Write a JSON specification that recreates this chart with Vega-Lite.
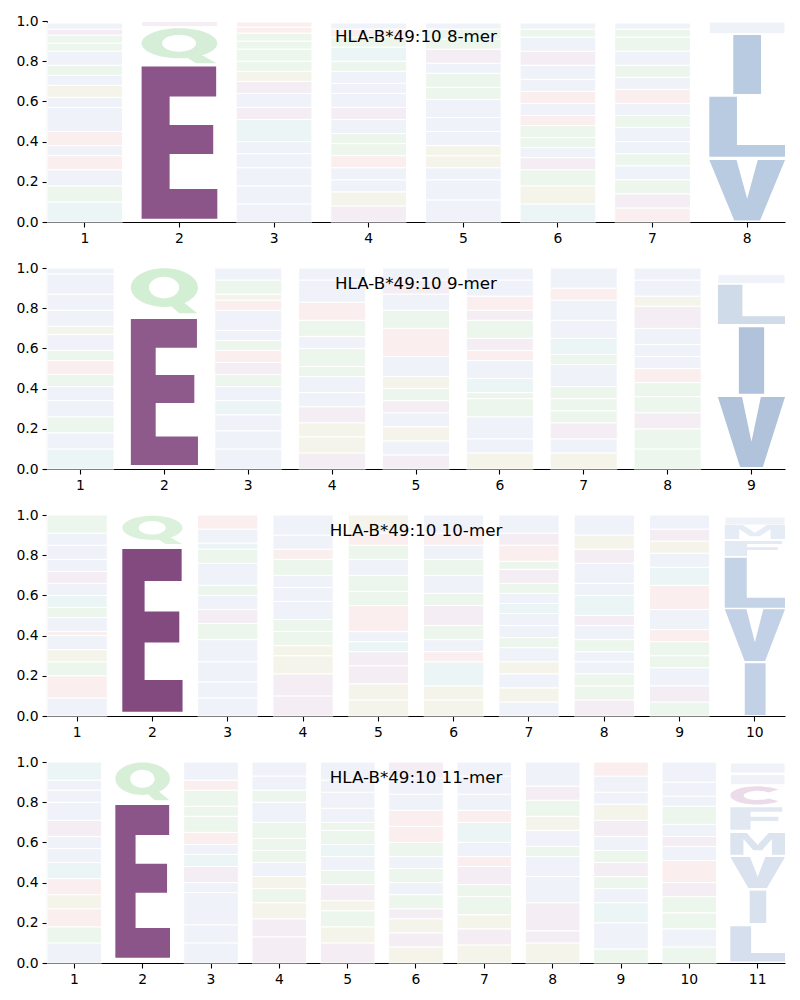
{
"$schema": "https://vega.github.io/schema/vega-lite/v6.json",
"background": "white",
"padding": {"left": 15, "top": 14, "right": 15, "bottom": 5},
"spacing": 16,
"config": {
  "view": {"stroke": null},
  "font": "DejaVu Sans",
  "axis": {"domainColor": "black", "domainWidth": 1.1, "tickColor": "black", "tickSize": 5, "tickWidth": 1.1, "labelFont": "DejaVu Sans", "labelFontSize": 13.9, "labelColor": "black", "labelPadding": 4, "grid": false, "title": null},
  "title": {"font": "DejaVu Sans", "fontSize": 16.7, "fontWeight": "normal", "color": "black", "anchor": "middle", "frame": "group", "offset": -32, "baseline": "alphabetic"}
},
"resolve": {"scale": {"x": "independent", "y": "independent", "fill": "independent", "shape": "independent"}},
"datasets": {
"faint": [
{"k":8,"x":1,"a":"H","y":0,"y2":0.10},{"k":8,"x":1,"a":"S","y":0.10,"y2":0.18},{"k":8,"x":1,"a":"A","y":0.18,"y2":0.26},{"k":8,"x":1,"a":"R","y":0.26,"y2":0.33},{"k":8,"x":1,"a":"F","y":0.33,"y2":0.38},{"k":8,"x":1,"a":"K","y":0.38,"y2":0.45},{"k":8,"x":1,"a":"Y","y":0.45,"y2":0.57},{"k":8,"x":1,"a":"M","y":0.57,"y2":0.62},{"k":8,"x":1,"a":"G","y":0.62,"y2":0.68},{"k":8,"x":1,"a":"V","y":0.68,"y2":0.73},{"k":8,"x":1,"a":"N","y":0.73,"y2":0.78},{"k":8,"x":1,"a":"M","y":0.78,"y2":0.85},{"k":8,"x":1,"a":"Q","y":0.85,"y2":0.89},{"k":8,"x":1,"a":"T","y":0.89,"y2":0.93},{"k":8,"x":1,"a":"E","y":0.93,"y2":0.96},{"k":8,"x":1,"a":"F","y":0.96,"y2":0.99},
{"k":8,"x":2,"a":"D","y":0.972,"y2":0.998},
{"k":8,"x":3,"a":"Y","y":0,"y2":0.09},{"k":8,"x":3,"a":"F","y":0.09,"y2":0.18},{"k":8,"x":3,"a":"W","y":0.18,"y2":0.27},{"k":8,"x":3,"a":"M","y":0.27,"y2":0.34},{"k":8,"x":3,"a":"I","y":0.34,"y2":0.40},{"k":8,"x":3,"a":"H","y":0.40,"y2":0.51},{"k":8,"x":3,"a":"C","y":0.51,"y2":0.57},{"k":8,"x":3,"a":"A","y":0.57,"y2":0.64},{"k":8,"x":3,"a":"D","y":0.64,"y2":0.70},{"k":8,"x":3,"a":"G","y":0.70,"y2":0.75},{"k":8,"x":3,"a":"S","y":0.75,"y2":0.80},{"k":8,"x":3,"a":"Q","y":0.80,"y2":0.86},{"k":8,"x":3,"a":"T","y":0.86,"y2":0.90},{"k":8,"x":3,"a":"N","y":0.90,"y2":0.94},{"k":8,"x":3,"a":"R","y":0.94,"y2":0.97},{"k":8,"x":3,"a":"K","y":0.97,"y2":0.995},
{"k":8,"x":4,"a":"E","y":0,"y2":0.08},{"k":8,"x":4,"a":"P","y":0.08,"y2":0.15},{"k":8,"x":4,"a":"M","y":0.15,"y2":0.21},{"k":8,"x":4,"a":"L","y":0.21,"y2":0.27},{"k":8,"x":4,"a":"R","y":0.27,"y2":0.33},{"k":8,"x":4,"a":"Q","y":0.33,"y2":0.39},{"k":8,"x":4,"a":"T","y":0.39,"y2":0.44},{"k":8,"x":4,"a":"V","y":0.44,"y2":0.51},{"k":8,"x":4,"a":"D","y":0.51,"y2":0.57},{"k":8,"x":4,"a":"M","y":0.57,"y2":0.64},{"k":8,"x":4,"a":"A","y":0.64,"y2":0.69},{"k":8,"x":4,"a":"F","y":0.69,"y2":0.75},{"k":8,"x":4,"a":"N","y":0.75,"y2":0.80},{"k":8,"x":4,"a":"H","y":0.80,"y2":0.87},{"k":8,"x":4,"a":"S","y":0.87,"y2":0.92},{"k":8,"x":4,"a":"K","y":0.92,"y2":0.96},{"k":8,"x":4,"a":"W","y":0.96,"y2":0.99},
{"k":8,"x":5,"a":"Y","y":0,"y2":0.11},{"k":8,"x":5,"a":"V","y":0.11,"y2":0.21},{"k":8,"x":5,"a":"L","y":0.21,"y2":0.27},{"k":8,"x":5,"a":"G","y":0.27,"y2":0.33},{"k":8,"x":5,"a":"P","y":0.33,"y2":0.38},{"k":8,"x":5,"a":"F","y":0.38,"y2":0.45},{"k":8,"x":5,"a":"A","y":0.45,"y2":0.52},{"k":8,"x":5,"a":"M","y":0.52,"y2":0.61},{"k":8,"x":5,"a":"S","y":0.61,"y2":0.67},{"k":8,"x":5,"a":"T","y":0.67,"y2":0.74},{"k":8,"x":5,"a":"Y","y":0.74,"y2":0.79},{"k":8,"x":5,"a":"C","y":0.79,"y2":0.86},{"k":8,"x":5,"a":"Q","y":0.86,"y2":0.91},{"k":8,"x":5,"a":"N","y":0.91,"y2":0.96},{"k":8,"x":5,"a":"W","y":0.96,"y2":0.99},
{"k":8,"x":6,"a":"H","y":0,"y2":0.09},{"k":8,"x":6,"a":"P","y":0.09,"y2":0.18},{"k":8,"x":6,"a":"N","y":0.18,"y2":0.26},{"k":8,"x":6,"a":"E","y":0.26,"y2":0.32},{"k":8,"x":6,"a":"L","y":0.32,"y2":0.37},{"k":8,"x":6,"a":"T","y":0.37,"y2":0.42},{"k":8,"x":6,"a":"Q","y":0.42,"y2":0.48},{"k":8,"x":6,"a":"R","y":0.48,"y2":0.53},{"k":8,"x":6,"a":"Y","y":0.53,"y2":0.59},{"k":8,"x":6,"a":"K","y":0.59,"y2":0.65},{"k":8,"x":6,"a":"F","y":0.65,"y2":0.71},{"k":8,"x":6,"a":"Y","y":0.71,"y2":0.78},{"k":8,"x":6,"a":"C","y":0.78,"y2":0.85},{"k":8,"x":6,"a":"A","y":0.85,"y2":0.92},{"k":8,"x":6,"a":"T","y":0.92,"y2":0.96},{"k":8,"x":6,"a":"M","y":0.96,"y2":0.99},
{"k":8,"x":7,"a":"K","y":0,"y2":0.07},{"k":8,"x":7,"a":"E","y":0.07,"y2":0.14},{"k":8,"x":7,"a":"Q","y":0.14,"y2":0.21},{"k":8,"x":7,"a":"A","y":0.21,"y2":0.28},{"k":8,"x":7,"a":"T","y":0.28,"y2":0.34},{"k":8,"x":7,"a":"L","y":0.34,"y2":0.40},{"k":8,"x":7,"a":"V","y":0.40,"y2":0.47},{"k":8,"x":7,"a":"S","y":0.47,"y2":0.53},{"k":8,"x":7,"a":"M","y":0.53,"y2":0.59},{"k":8,"x":7,"a":"R","y":0.59,"y2":0.66},{"k":8,"x":7,"a":"F","y":0.66,"y2":0.72},{"k":8,"x":7,"a":"N","y":0.72,"y2":0.78},{"k":8,"x":7,"a":"Y","y":0.78,"y2":0.85},{"k":8,"x":7,"a":"Q","y":0.85,"y2":0.92},{"k":8,"x":7,"a":"T","y":0.92,"y2":0.96},{"k":8,"x":7,"a":"W","y":0.96,"y2":0.99},
{"k":8,"x":8,"a":"M","y":0.937,"y2":0.995},
{"k":9,"x":1,"a":"H","y":0,"y2":0.10},{"k":9,"x":1,"a":"A","y":0.10,"y2":0.18},{"k":9,"x":1,"a":"S","y":0.18,"y2":0.26},{"k":9,"x":1,"a":"M","y":0.26,"y2":0.34},{"k":9,"x":1,"a":"Y","y":0.34,"y2":0.41},{"k":9,"x":1,"a":"Q","y":0.41,"y2":0.47},{"k":9,"x":1,"a":"R","y":0.47,"y2":0.54},{"k":9,"x":1,"a":"T","y":0.54,"y2":0.59},{"k":9,"x":1,"a":"M","y":0.59,"y2":0.67},{"k":9,"x":1,"a":"G","y":0.67,"y2":0.71},{"k":9,"x":1,"a":"F","y":0.71,"y2":0.79},{"k":9,"x":1,"a":"I","y":0.79,"y2":0.87},{"k":9,"x":1,"a":"Y","y":0.87,"y2":0.97},{"k":9,"x":1,"a":"W","y":0.97,"y2":1.0},
{"k":9,"x":3,"a":"F","y":0,"y2":0.10},{"k":9,"x":3,"a":"Y","y":0.10,"y2":0.19},{"k":9,"x":3,"a":"M","y":0.19,"y2":0.27},{"k":9,"x":3,"a":"H","y":0.27,"y2":0.34},{"k":9,"x":3,"a":"I","y":0.34,"y2":0.41},{"k":9,"x":3,"a":"N","y":0.41,"y2":0.47},{"k":9,"x":3,"a":"C","y":0.47,"y2":0.53},{"k":9,"x":3,"a":"K","y":0.53,"y2":0.59},{"k":9,"x":3,"a":"S","y":0.59,"y2":0.64},{"k":9,"x":3,"a":"Y","y":0.64,"y2":0.69},{"k":9,"x":3,"a":"W","y":0.69,"y2":0.79},{"k":9,"x":3,"a":"R","y":0.79,"y2":0.84},{"k":9,"x":3,"a":"G","y":0.84,"y2":0.87},{"k":9,"x":3,"a":"T","y":0.87,"y2":0.94},{"k":9,"x":3,"a":"F","y":0.94,"y2":1.0},
{"k":9,"x":4,"a":"E","y":0,"y2":0.08},{"k":9,"x":4,"a":"P","y":0.08,"y2":0.16},{"k":9,"x":4,"a":"G","y":0.16,"y2":0.23},{"k":9,"x":4,"a":"D","y":0.23,"y2":0.31},{"k":9,"x":4,"a":"V","y":0.31,"y2":0.38},{"k":9,"x":4,"a":"A","y":0.38,"y2":0.46},{"k":9,"x":4,"a":"Q","y":0.46,"y2":0.51},{"k":9,"x":4,"a":"N","y":0.51,"y2":0.60},{"k":9,"x":4,"a":"M","y":0.60,"y2":0.66},{"k":9,"x":4,"a":"T","y":0.66,"y2":0.74},{"k":9,"x":4,"a":"K","y":0.74,"y2":0.83},{"k":9,"x":4,"a":"Y","y":0.83,"y2":0.94},{"k":9,"x":4,"a":"W","y":0.94,"y2":1.0},
{"k":9,"x":5,"a":"C","y":0,"y2":0.07},{"k":9,"x":5,"a":"Y","y":0.07,"y2":0.14},{"k":9,"x":5,"a":"P","y":0.14,"y2":0.21},{"k":9,"x":5,"a":"F","y":0.21,"y2":0.28},{"k":9,"x":5,"a":"E","y":0.28,"y2":0.34},{"k":9,"x":5,"a":"S","y":0.34,"y2":0.40},{"k":9,"x":5,"a":"G","y":0.40,"y2":0.46},{"k":9,"x":5,"a":"L","y":0.46,"y2":0.56},{"k":9,"x":5,"a":"K","y":0.56,"y2":0.70},{"k":9,"x":5,"a":"N","y":0.70,"y2":0.79},{"k":9,"x":5,"a":"V","y":0.79,"y2":0.87},{"k":9,"x":5,"a":"C","y":0.87,"y2":0.94},{"k":9,"x":5,"a":"A","y":0.94,"y2":1.0},
{"k":9,"x":6,"a":"P","y":0,"y2":0.08},{"k":9,"x":6,"a":"Y","y":0.08,"y2":0.15},{"k":9,"x":6,"a":"F","y":0.15,"y2":0.26},{"k":9,"x":6,"a":"Q","y":0.26,"y2":0.35},{"k":9,"x":6,"a":"S","y":0.35,"y2":0.38},{"k":9,"x":6,"a":"H","y":0.38,"y2":0.45},{"k":9,"x":6,"a":"A","y":0.45,"y2":0.54},{"k":9,"x":6,"a":"K","y":0.54,"y2":0.59},{"k":9,"x":6,"a":"E","y":0.59,"y2":0.65},{"k":9,"x":6,"a":"N","y":0.65,"y2":0.74},{"k":9,"x":6,"a":"C","y":0.74,"y2":0.79},{"k":9,"x":6,"a":"R","y":0.79,"y2":0.86},{"k":9,"x":6,"a":"Y","y":0.86,"y2":0.94},{"k":9,"x":6,"a":"M","y":0.94,"y2":1.0},
{"k":9,"x":7,"a":"P","y":0,"y2":0.08},{"k":9,"x":7,"a":"M","y":0.08,"y2":0.15},{"k":9,"x":7,"a":"E","y":0.15,"y2":0.23},{"k":9,"x":7,"a":"Q","y":0.23,"y2":0.29},{"k":9,"x":7,"a":"T","y":0.29,"y2":0.35},{"k":9,"x":7,"a":"N","y":0.35,"y2":0.41},{"k":9,"x":7,"a":"Y","y":0.41,"y2":0.52},{"k":9,"x":7,"a":"S","y":0.52,"y2":0.57},{"k":9,"x":7,"a":"H","y":0.57,"y2":0.65},{"k":9,"x":7,"a":"A","y":0.65,"y2":0.74},{"k":9,"x":7,"a":"M","y":0.74,"y2":0.84},{"k":9,"x":7,"a":"R","y":0.84,"y2":0.90},{"k":9,"x":7,"a":"Y","y":0.90,"y2":1.0},
{"k":9,"x":8,"a":"T","y":0,"y2":0.10},{"k":9,"x":8,"a":"Q","y":0.10,"y2":0.20},{"k":9,"x":8,"a":"E","y":0.20,"y2":0.28},{"k":9,"x":8,"a":"S","y":0.28,"y2":0.36},{"k":9,"x":8,"a":"N","y":0.36,"y2":0.43},{"k":9,"x":8,"a":"K","y":0.43,"y2":0.50},{"k":9,"x":8,"a":"A","y":0.50,"y2":0.56},{"k":9,"x":8,"a":"Y","y":0.56,"y2":0.62},{"k":9,"x":8,"a":"L","y":0.62,"y2":0.70},{"k":9,"x":8,"a":"C","y":0.70,"y2":0.81},{"k":9,"x":8,"a":"G","y":0.81,"y2":0.86},{"k":9,"x":8,"a":"Y","y":0.86,"y2":0.94},{"k":9,"x":8,"a":"M","y":0.94,"y2":1.0},
{"k":9,"x":9,"a":"M","y":0.922,"y2":0.967},
{"k":10,"x":1,"a":"A","y":0,"y2":0.09},{"k":10,"x":1,"a":"R","y":0.09,"y2":0.20},{"k":10,"x":1,"a":"S","y":0.20,"y2":0.27},{"k":10,"x":1,"a":"G","y":0.27,"y2":0.33},{"k":10,"x":1,"a":"V","y":0.33,"y2":0.40},{"k":10,"x":1,"a":"K","y":0.40,"y2":0.42},{"k":10,"x":1,"a":"Y","y":0.42,"y2":0.49},{"k":10,"x":1,"a":"Q","y":0.49,"y2":0.54},{"k":10,"x":1,"a":"H","y":0.54,"y2":0.60},{"k":10,"x":1,"a":"M","y":0.60,"y2":0.66},{"k":10,"x":1,"a":"C","y":0.66,"y2":0.72},{"k":10,"x":1,"a":"F","y":0.72,"y2":0.78},{"k":10,"x":1,"a":"W","y":0.78,"y2":0.85},{"k":10,"x":1,"a":"I","y":0.85,"y2":0.91},{"k":10,"x":1,"a":"T","y":0.91,"y2":1.0},
{"k":10,"x":3,"a":"F","y":0,"y2":0.09},{"k":10,"x":3,"a":"Y","y":0.09,"y2":0.17},{"k":10,"x":3,"a":"I","y":0.17,"y2":0.27},{"k":10,"x":3,"a":"M","y":0.27,"y2":0.38},{"k":10,"x":3,"a":"Q","y":0.38,"y2":0.46},{"k":10,"x":3,"a":"D","y":0.46,"y2":0.53},{"k":10,"x":3,"a":"A","y":0.53,"y2":0.60},{"k":10,"x":3,"a":"S","y":0.60,"y2":0.65},{"k":10,"x":3,"a":"W","y":0.65,"y2":0.76},{"k":10,"x":3,"a":"N","y":0.76,"y2":0.83},{"k":10,"x":3,"a":"H","y":0.83,"y2":0.86},{"k":10,"x":3,"a":"M","y":0.86,"y2":0.93},{"k":10,"x":3,"a":"R","y":0.93,"y2":1.0},
{"k":10,"x":4,"a":"D","y":0,"y2":0.10},{"k":10,"x":4,"a":"E","y":0.10,"y2":0.21},{"k":10,"x":4,"a":"P","y":0.21,"y2":0.30},{"k":10,"x":4,"a":"G","y":0.30,"y2":0.35},{"k":10,"x":4,"a":"S","y":0.35,"y2":0.42},{"k":10,"x":4,"a":"Q","y":0.42,"y2":0.48},{"k":10,"x":4,"a":"A","y":0.48,"y2":0.57},{"k":10,"x":4,"a":"V","y":0.57,"y2":0.64},{"k":10,"x":4,"a":"W","y":0.64,"y2":0.70},{"k":10,"x":4,"a":"N","y":0.70,"y2":0.78},{"k":10,"x":4,"a":"R","y":0.78,"y2":0.83},{"k":10,"x":4,"a":"M","y":0.83,"y2":0.90},{"k":10,"x":4,"a":"Y","y":0.90,"y2":1.0},
{"k":10,"x":5,"a":"P","y":0,"y2":0.08},{"k":10,"x":5,"a":"G","y":0.08,"y2":0.16},{"k":10,"x":5,"a":"D","y":0.16,"y2":0.25},{"k":10,"x":5,"a":"E","y":0.25,"y2":0.32},{"k":10,"x":5,"a":"H","y":0.32,"y2":0.37},{"k":10,"x":5,"a":"Y","y":0.37,"y2":0.42},{"k":10,"x":5,"a":"K","y":0.42,"y2":0.55},{"k":10,"x":5,"a":"N","y":0.55,"y2":0.62},{"k":10,"x":5,"a":"S","y":0.62,"y2":0.70},{"k":10,"x":5,"a":"W","y":0.70,"y2":0.78},{"k":10,"x":5,"a":"T","y":0.78,"y2":0.85},{"k":10,"x":5,"a":"R","y":0.85,"y2":0.91},{"k":10,"x":5,"a":"G","y":0.91,"y2":1.0},
{"k":10,"x":6,"a":"P","y":0,"y2":0.08},{"k":10,"x":6,"a":"G","y":0.08,"y2":0.15},{"k":10,"x":6,"a":"H","y":0.15,"y2":0.27},{"k":10,"x":6,"a":"K","y":0.27,"y2":0.32},{"k":10,"x":6,"a":"V","y":0.32,"y2":0.38},{"k":10,"x":6,"a":"N","y":0.38,"y2":0.45},{"k":10,"x":6,"a":"D","y":0.45,"y2":0.55},{"k":10,"x":6,"a":"S","y":0.55,"y2":0.61},{"k":10,"x":6,"a":"L","y":0.61,"y2":0.70},{"k":10,"x":6,"a":"T","y":0.70,"y2":0.78},{"k":10,"x":6,"a":"M","y":0.78,"y2":0.85},{"k":10,"x":6,"a":"R","y":0.85,"y2":0.91},{"k":10,"x":6,"a":"A","y":0.91,"y2":1.0},
{"k":10,"x":7,"a":"I","y":0,"y2":0.07},{"k":10,"x":7,"a":"G","y":0.07,"y2":0.14},{"k":10,"x":7,"a":"M","y":0.14,"y2":0.21},{"k":10,"x":7,"a":"P","y":0.21,"y2":0.27},{"k":10,"x":7,"a":"A","y":0.27,"y2":0.34},{"k":10,"x":7,"a":"S","y":0.34,"y2":0.39},{"k":10,"x":7,"a":"L","y":0.39,"y2":0.45},{"k":10,"x":7,"a":"V","y":0.45,"y2":0.51},{"k":10,"x":7,"a":"H","y":0.51,"y2":0.56},{"k":10,"x":7,"a":"F","y":0.56,"y2":0.61},{"k":10,"x":7,"a":"Q","y":0.61,"y2":0.66},{"k":10,"x":7,"a":"D","y":0.66,"y2":0.73},{"k":10,"x":7,"a":"N","y":0.73,"y2":0.77},{"k":10,"x":7,"a":"R","y":0.77,"y2":0.85},{"k":10,"x":7,"a":"E","y":0.85,"y2":0.91},{"k":10,"x":7,"a":"W","y":0.91,"y2":1.0},
{"k":10,"x":8,"a":"E","y":0,"y2":0.08},{"k":10,"x":8,"a":"Q","y":0.08,"y2":0.15},{"k":10,"x":8,"a":"T","y":0.15,"y2":0.21},{"k":10,"x":8,"a":"M","y":0.21,"y2":0.27},{"k":10,"x":8,"a":"I","y":0.27,"y2":0.32},{"k":10,"x":8,"a":"S","y":0.32,"y2":0.38},{"k":10,"x":8,"a":"A","y":0.38,"y2":0.45},{"k":10,"x":8,"a":"C","y":0.45,"y2":0.50},{"k":10,"x":8,"a":"H","y":0.50,"y2":0.60},{"k":10,"x":8,"a":"V","y":0.60,"y2":0.66},{"k":10,"x":8,"a":"M","y":0.66,"y2":0.76},{"k":10,"x":8,"a":"D","y":0.76,"y2":0.83},{"k":10,"x":8,"a":"P","y":0.83,"y2":0.90},{"k":10,"x":8,"a":"Y","y":0.90,"y2":1.0},
{"k":10,"x":9,"a":"T","y":0,"y2":0.07},{"k":10,"x":9,"a":"E","y":0.07,"y2":0.15},{"k":10,"x":9,"a":"A","y":0.15,"y2":0.24},{"k":10,"x":9,"a":"Q","y":0.24,"y2":0.30},{"k":10,"x":9,"a":"S","y":0.30,"y2":0.37},{"k":10,"x":9,"a":"K","y":0.37,"y2":0.43},{"k":10,"x":9,"a":"V","y":0.43,"y2":0.53},{"k":10,"x":9,"a":"R","y":0.53,"y2":0.65},{"k":10,"x":9,"a":"H","y":0.65,"y2":0.74},{"k":10,"x":9,"a":"Y","y":0.74,"y2":0.81},{"k":10,"x":9,"a":"G","y":0.81,"y2":0.87},{"k":10,"x":9,"a":"E","y":0.87,"y2":0.93},{"k":10,"x":9,"a":"F","y":0.93,"y2":1.0},
{"k":10,"x":10,"a":"W","y":0.95,"y2":0.99},
{"k":11,"x":1,"a":"A","y":0,"y2":0.10},{"k":11,"x":1,"a":"S","y":0.10,"y2":0.18},{"k":11,"x":1,"a":"R","y":0.18,"y2":0.27},{"k":11,"x":1,"a":"G","y":0.27,"y2":0.34},{"k":11,"x":1,"a":"K","y":0.34,"y2":0.42},{"k":11,"x":1,"a":"H","y":0.42,"y2":0.50},{"k":11,"x":1,"a":"M","y":0.50,"y2":0.57},{"k":11,"x":1,"a":"Y","y":0.57,"y2":0.63},{"k":11,"x":1,"a":"C","y":0.63,"y2":0.71},{"k":11,"x":1,"a":"Y","y":0.71,"y2":0.80},{"k":11,"x":1,"a":"V","y":0.80,"y2":0.86},{"k":11,"x":1,"a":"F","y":0.86,"y2":0.91},{"k":11,"x":1,"a":"H","y":0.91,"y2":1.0},
{"k":11,"x":3,"a":"F","y":0,"y2":0.10},{"k":11,"x":3,"a":"Y","y":0.10,"y2":0.19},{"k":11,"x":3,"a":"W","y":0.19,"y2":0.35},{"k":11,"x":3,"a":"M","y":0.35,"y2":0.40},{"k":11,"x":3,"a":"D","y":0.40,"y2":0.48},{"k":11,"x":3,"a":"H","y":0.48,"y2":0.54},{"k":11,"x":3,"a":"A","y":0.54,"y2":0.59},{"k":11,"x":3,"a":"K","y":0.59,"y2":0.65},{"k":11,"x":3,"a":"Q","y":0.65,"y2":0.73},{"k":11,"x":3,"a":"S","y":0.73,"y2":0.78},{"k":11,"x":3,"a":"N","y":0.78,"y2":0.86},{"k":11,"x":3,"a":"R","y":0.86,"y2":0.91},{"k":11,"x":3,"a":"M","y":0.91,"y2":1.0},
{"k":11,"x":4,"a":"D","y":0,"y2":0.13},{"k":11,"x":4,"a":"E","y":0.13,"y2":0.22},{"k":11,"x":4,"a":"P","y":0.22,"y2":0.30},{"k":11,"x":4,"a":"S","y":0.30,"y2":0.37},{"k":11,"x":4,"a":"G","y":0.37,"y2":0.43},{"k":11,"x":4,"a":"A","y":0.43,"y2":0.50},{"k":11,"x":4,"a":"Q","y":0.50,"y2":0.56},{"k":11,"x":4,"a":"N","y":0.56,"y2":0.62},{"k":11,"x":4,"a":"T","y":0.62,"y2":0.70},{"k":11,"x":4,"a":"Y","y":0.70,"y2":0.80},{"k":11,"x":4,"a":"N","y":0.80,"y2":0.86},{"k":11,"x":4,"a":"W","y":0.86,"y2":0.93},{"k":11,"x":4,"a":"Y","y":0.93,"y2":1.0},
{"k":11,"x":5,"a":"D","y":0,"y2":0.10},{"k":11,"x":5,"a":"P","y":0.10,"y2":0.18},{"k":11,"x":5,"a":"N","y":0.18,"y2":0.26},{"k":11,"x":5,"a":"G","y":0.26,"y2":0.31},{"k":11,"x":5,"a":"E","y":0.31,"y2":0.39},{"k":11,"x":5,"a":"S","y":0.39,"y2":0.46},{"k":11,"x":5,"a":"A","y":0.46,"y2":0.53},{"k":11,"x":5,"a":"H","y":0.53,"y2":0.59},{"k":11,"x":5,"a":"T","y":0.59,"y2":0.66},{"k":11,"x":5,"a":"Q","y":0.66,"y2":0.70},{"k":11,"x":5,"a":"M","y":0.70,"y2":0.77},{"k":11,"x":5,"a":"F","y":0.77,"y2":0.85},{"k":11,"x":5,"a":"Y","y":0.85,"y2":0.91},{"k":11,"x":5,"a":"W","y":0.91,"y2":1.0},
{"k":11,"x":6,"a":"G","y":0,"y2":0.08},{"k":11,"x":6,"a":"D","y":0.08,"y2":0.15},{"k":11,"x":6,"a":"P","y":0.15,"y2":0.22},{"k":11,"x":6,"a":"E","y":0.22,"y2":0.27},{"k":11,"x":6,"a":"N","y":0.27,"y2":0.34},{"k":11,"x":6,"a":"L","y":0.34,"y2":0.40},{"k":11,"x":6,"a":"S","y":0.40,"y2":0.47},{"k":11,"x":6,"a":"A","y":0.47,"y2":0.53},{"k":11,"x":6,"a":"Q","y":0.53,"y2":0.60},{"k":11,"x":6,"a":"K","y":0.60,"y2":0.68},{"k":11,"x":6,"a":"R","y":0.68,"y2":0.76},{"k":11,"x":6,"a":"V","y":0.76,"y2":0.84},{"k":11,"x":6,"a":"W","y":0.84,"y2":0.92},{"k":11,"x":6,"a":"E","y":0.92,"y2":1.0},
{"k":11,"x":7,"a":"G","y":0,"y2":0.09},{"k":11,"x":7,"a":"D","y":0.09,"y2":0.17},{"k":11,"x":7,"a":"P","y":0.17,"y2":0.24},{"k":11,"x":7,"a":"N","y":0.24,"y2":0.33},{"k":11,"x":7,"a":"S","y":0.33,"y2":0.39},{"k":11,"x":7,"a":"E","y":0.39,"y2":0.48},{"k":11,"x":7,"a":"K","y":0.48,"y2":0.53},{"k":11,"x":7,"a":"A","y":0.53,"y2":0.60},{"k":11,"x":7,"a":"H","y":0.60,"y2":0.70},{"k":11,"x":7,"a":"R","y":0.70,"y2":0.76},{"k":11,"x":7,"a":"V","y":0.76,"y2":0.84},{"k":11,"x":7,"a":"Y","y":0.84,"y2":0.93},{"k":11,"x":7,"a":"W","y":0.93,"y2":1.0},
{"k":11,"x":8,"a":"G","y":0,"y2":0.10},{"k":11,"x":8,"a":"C","y":0.10,"y2":0.16},{"k":11,"x":8,"a":"D","y":0.16,"y2":0.30},{"k":11,"x":8,"a":"Y","y":0.30,"y2":0.43},{"k":11,"x":8,"a":"A","y":0.43,"y2":0.53},{"k":11,"x":8,"a":"T","y":0.53,"y2":0.58},{"k":11,"x":8,"a":"L","y":0.58,"y2":0.66},{"k":11,"x":8,"a":"P","y":0.66,"y2":0.73},{"k":11,"x":8,"a":"N","y":0.73,"y2":0.81},{"k":11,"x":8,"a":"E","y":0.81,"y2":0.88},{"k":11,"x":8,"a":"M","y":0.88,"y2":1.0},
{"k":11,"x":9,"a":"N","y":0,"y2":0.07},{"k":11,"x":9,"a":"M","y":0.07,"y2":0.20},{"k":11,"x":9,"a":"H","y":0.20,"y2":0.30},{"k":11,"x":9,"a":"Y","y":0.30,"y2":0.37},{"k":11,"x":9,"a":"T","y":0.37,"y2":0.43},{"k":11,"x":9,"a":"E","y":0.43,"y2":0.50},{"k":11,"x":9,"a":"Q","y":0.50,"y2":0.56},{"k":11,"x":9,"a":"L","y":0.56,"y2":0.63},{"k":11,"x":9,"a":"C","y":0.63,"y2":0.71},{"k":11,"x":9,"a":"G","y":0.71,"y2":0.79},{"k":11,"x":9,"a":"W","y":0.79,"y2":0.85},{"k":11,"x":9,"a":"M","y":0.85,"y2":0.93},{"k":11,"x":9,"a":"R","y":0.93,"y2":1.0},
{"k":11,"x":10,"a":"T","y":0,"y2":0.08},{"k":11,"x":10,"a":"A","y":0.08,"y2":0.17},{"k":11,"x":10,"a":"S","y":0.17,"y2":0.25},{"k":11,"x":10,"a":"Q","y":0.25,"y2":0.33},{"k":11,"x":10,"a":"E","y":0.33,"y2":0.40},{"k":11,"x":10,"a":"R","y":0.40,"y2":0.51},{"k":11,"x":10,"a":"V","y":0.51,"y2":0.58},{"k":11,"x":10,"a":"C","y":0.58,"y2":0.63},{"k":11,"x":10,"a":"I","y":0.63,"y2":0.69},{"k":11,"x":10,"a":"N","y":0.69,"y2":0.78},{"k":11,"x":10,"a":"M","y":0.78,"y2":0.83},{"k":11,"x":10,"a":"F","y":0.83,"y2":0.90},{"k":11,"x":10,"a":"Y","y":0.90,"y2":1.0},
{"k":11,"x":11,"a":"W","y":0.887,"y2":0.937},{"k":11,"x":11,"a":"A","y":0.945,"y2":0.995}
],
"main": [
{"k":8,"x":2,"a":"E","lo":0.016},{"k":8,"x":2,"a":"Q","lo":0.79},{"k":8,"x":8,"a":"V","lo":0.007},{"k":8,"x":8,"a":"L","lo":0.325},{"k":8,"x":8,"a":"I","lo":0.637},
{"k":9,"x":2,"a":"E","lo":0.02},{"k":9,"x":2,"a":"Q","lo":0.775},{"k":9,"x":9,"a":"V","lo":0.010},{"k":9,"x":9,"a":"I","lo":0.375},{"k":9,"x":9,"a":"L","lo":0.721},
{"k":10,"x":2,"a":"E","lo":0.021},{"k":10,"x":2,"a":"Q","lo":0.856},{"k":10,"x":10,"a":"I","lo":0.005},{"k":10,"x":10,"a":"V","lo":0.274},{"k":10,"x":10,"a":"L","lo":0.539},{"k":10,"x":10,"a":"F","lo":0.796},{"k":10,"x":10,"a":"M","lo":0.88},
{"k":11,"x":2,"a":"E","lo":0.026},{"k":11,"x":2,"a":"Q","lo":0.81},{"k":11,"x":11,"a":"L","lo":0.008},{"k":11,"x":11,"a":"I","lo":0.199},{"k":11,"x":11,"a":"V","lo":0.373},{"k":11,"x":11,"a":"M","lo":0.539},{"k":11,"x":11,"a":"F","lo":0.663},{"k":11,"x":11,"a":"C","lo":0.788}
]
},
"vconcat": [
{
 "width": 738, "height": 201,
 "title": {"text": "HLA-B*49:10 8-mer"},
 "layer": [
  {"data": {"name": "faint"}, "transform": [{"filter": "datum.k == 8"}],
   "mark": {"type": "bar", "stroke": "white", "strokeWidth": 1},
   "encoding": {
    "x": {"field": "x", "type": "ordinal", "scale": {"type": "band", "domain": [1,2,3,4,5,6,7,8], "paddingInner": 0.2, "paddingOuter": 0}, "axis": {"labelAngle": 0}},
    "y": {"field": "y", "type": "quantitative", "scale": {"domain": [0, 1], "nice": false}, "axis": {"values": [0, 0.2, 0.4, 0.6, 0.8, 1.0], "format": ".1f"}},
    "y2": {"field": "y2"},
    "color": {"field": "a", "type": "nominal", "legend": null, "scale": {"domain": ["A","C","D","E","F","G","H","I","K","L","M","N","P","Q","R","S","T","V","W","Y"], "range": ["#eff2f8","#f4edf3","#f4edf3","#f4edf3","#eff2f8","#f5f4ea","#ecf5f5","#eff2f8","#faeeee","#eff2f8","#eff2f8","#ecf6ec","#f5f4ea","#ecf6ec","#faeeee","#ecf6ec","#ecf6ec","#eff2f8","#eff2f8","#eff2f8"]}}
   }},
  {"data": {"name": "main"}, "transform": [{"filter": "datum.k == 8"}],
   "mark": {"type": "point", "filled": true, "opacity": 1, "size": 4, "strokeWidth": 0},
   "encoding": {
    "x": {"field": "x", "type": "ordinal"},
    "y": {"field": "lo", "type": "quantitative"},
    "shape": {"field": "a", "type": "nominal", "legend": null, "scale": {"domain": ["E","Q","V","L","I"], "range": [
      "M-37.85,0L37.85,0L37.85,-29.68L-9.84,-29.68L-9.84,-64.69L33.76,-64.69L33.76,-93.76L-9.84,-93.76L-9.84,-122.22L36.71,-122.22L36.71,-152.2L-37.85,-152.2Z",
      "M-37.85,-19.95A37.85,15.05 0 0 1 37.85,-19.95A37.85,15.05 0 0 1 -37.85,-19.95ZM-17.41,-19.95A17.03,8.4 0 0 0 16.65,-19.95A17.03,8.4 0 0 0 -17.41,-19.95ZM3.79,-7.7L21.2,-8.75L37.1,0L16.65,0Z",
      "M-37.85,-60.5L-10.6,-60.5L0,-21.78L10.6,-60.5L37.85,-60.5L12.87,0L-12.87,0Z",
      "M-37.85,0L37.85,0L37.85,-11.6L-10.22,-11.6L-10.22,-59.9L-37.85,-59.9Z",
      "M-13.9,0L13.9,0L13.9,-58.9L-13.9,-58.9Z"]}},
    "fill": {"field": "a", "type": "nominal", "legend": null, "scale": {"domain": ["E","Q","V","L","I"], "range": ["#8b5589","#d6eed8","#b9cbe1","#b9cbe1","#b9cbe1"]}}
   }}
 ]
},
{
 "width": 738, "height": 201,
 "title": {"text": "HLA-B*49:10 9-mer"},
 "layer": [
  {"data": {"name": "faint"}, "transform": [{"filter": "datum.k == 9"}],
   "mark": {"type": "bar", "stroke": "white", "strokeWidth": 1},
   "encoding": {
    "x": {"field": "x", "type": "ordinal", "scale": {"type": "band", "domain": [1,2,3,4,5,6,7,8,9], "paddingInner": 0.2, "paddingOuter": 0}, "axis": {"labelAngle": 0}},
    "y": {"field": "y", "type": "quantitative", "scale": {"domain": [0, 1], "nice": false}, "axis": {"values": [0, 0.2, 0.4, 0.6, 0.8, 1.0], "format": ".1f"}},
    "y2": {"field": "y2"},
    "color": {"field": "a", "type": "nominal", "legend": null, "scale": {"domain": ["A","C","D","E","F","G","H","I","K","L","M","N","P","Q","R","S","T","V","W","Y"], "range": ["#eff2f8","#f4edf3","#f4edf3","#f4edf3","#eff2f8","#f5f4ea","#ecf5f5","#eff2f8","#faeeee","#eff2f8","#eff2f8","#ecf6ec","#f5f4ea","#ecf6ec","#faeeee","#ecf6ec","#ecf6ec","#eff2f8","#eff2f8","#eff2f8"]}}
   }},
  {"data": {"name": "main"}, "transform": [{"filter": "datum.k == 9"}],
   "mark": {"type": "point", "filled": true, "opacity": 1, "size": 4, "strokeWidth": 0},
   "encoding": {
    "x": {"field": "x", "type": "ordinal"},
    "y": {"field": "lo", "type": "quantitative"},
    "shape": {"field": "a", "type": "nominal", "legend": null, "scale": {"domain": ["E","Q","V","I","L"], "range": [
      "M-33.55,0L33.55,0L33.55,-28.45L-8.72,-28.45L-8.72,-62.01L29.92,-62.01L29.92,-89.87L-8.72,-89.87L-8.72,-117.16L32.54,-117.16L32.54,-145.9L-33.55,-145.9Z",
      "M-33.55,-25.65A33.55,19.35 0 0 1 33.55,-25.65A33.55,19.35 0 0 1 -33.55,-25.65ZM-15.44,-25.65A15.1,10.8 0 0 0 14.76,-25.65A15.1,10.8 0 0 0 -15.44,-25.65ZM3.35,-9.9L18.79,-11.25L32.87,0L14.76,0Z",
      "M-33.55,-69.9L-9.39,-69.9L0,-25.16L9.39,-69.9L33.55,-69.9L11.41,0L-11.41,0Z",
      "M-12.6,0L12.7,0L12.7,-66.5L-12.6,-66.5Z",
      "M-33.55,0L33.55,0L33.55,-7.88L-9.06,-7.88L-9.06,-39.4L-33.55,-39.4Z"]}},
    "fill": {"field": "a", "type": "nominal", "legend": null, "scale": {"domain": ["E","Q","V","I","L"], "range": ["#8e5a8b","#d3efd3","#b0c3da","#b0c3da","#cfdbe8"]}}
   }}
 ]
},
{
 "width": 738, "height": 201,
 "title": {"text": "HLA-B*49:10 10-mer"},
 "layer": [
  {"data": {"name": "faint"}, "transform": [{"filter": "datum.k == 10"}],
   "mark": {"type": "bar", "stroke": "white", "strokeWidth": 1},
   "encoding": {
    "x": {"field": "x", "type": "ordinal", "scale": {"type": "band", "domain": [1,2,3,4,5,6,7,8,9,10], "paddingInner": 0.2, "paddingOuter": 0}, "axis": {"labelAngle": 0}},
    "y": {"field": "y", "type": "quantitative", "scale": {"domain": [0, 1], "nice": false}, "axis": {"values": [0, 0.2, 0.4, 0.6, 0.8, 1.0], "format": ".1f"}},
    "y2": {"field": "y2"},
    "color": {"field": "a", "type": "nominal", "legend": null, "scale": {"domain": ["A","C","D","E","F","G","H","I","K","L","M","N","P","Q","R","S","T","V","W","Y"], "range": ["#eff2f8","#f4edf3","#f4edf3","#f4edf3","#eff2f8","#f5f4ea","#ecf5f5","#eff2f8","#faeeee","#eff2f8","#eff2f8","#ecf6ec","#f5f4ea","#ecf6ec","#faeeee","#ecf6ec","#ecf6ec","#eff2f8","#eff2f8","#eff2f8"]}}
   }},
  {"data": {"name": "main"}, "transform": [{"filter": "datum.k == 10"}],
   "mark": {"type": "point", "filled": true, "opacity": 1, "size": 4, "strokeWidth": 0},
   "encoding": {
    "x": {"field": "x", "type": "ordinal"},
    "y": {"field": "lo", "type": "quantitative"},
    "shape": {"field": "a", "type": "nominal", "legend": null, "scale": {"domain": ["E","Q","I","V","L","F","M"], "range": [
      "M-30.12,0L30.12,0L30.12,-31.75L-7.83,-31.75L-7.83,-69.19L26.87,-69.19L26.87,-100.28L-7.83,-100.28L-7.83,-130.73L29.22,-130.73L29.22,-162.8L-30.12,-162.8Z",
      "M-30.12,-16.13A30.12,12.17 0 0 1 30.12,-16.13A30.12,12.17 0 0 1 -30.12,-16.13ZM-13.85,-16.13A13.55,6.79 0 0 0 13.25,-16.13A13.55,6.79 0 0 0 -13.85,-16.13ZM3.01,-6.23L16.87,-7.08L29.52,0L13.25,0Z",
      "M-10.1,0L10.7,0L10.7,-51.7L-10.1,-51.7Z",
      "M-30.12,-51.7L-8.43,-51.7L0,-18.61L8.43,-51.7L30.12,-51.7L10.24,0L-10.24,0Z",
      "M-30.12,0L30.12,0L30.12,-10L-8.13,-10L-8.13,-50L-30.12,-50Z",
      "M-30.12,0L-30.12,-15.1L27.11,-15.1L27.11,-12.08L-7.83,-12.08L-7.83,-8.76L22.89,-8.76L22.89,-5.89L-7.83,-5.89L-7.83,0Z",
      "M-30.12,0L-30.12,-14.1L-12.05,-14.1L0,-6.35L12.05,-14.1L30.12,-14.1L30.12,0L15.66,0L15.66,-10.15L4.82,-2.82L-4.82,-2.82L-15.66,-10.15L-15.66,0Z"]}},
    "fill": {"field": "a", "type": "nominal", "legend": null, "scale": {"domain": ["E","Q","I","V","L","F","M"], "range": ["#834a80","#dcf1dc","#c2d1e5","#c2d1e5","#c5d3e6","#e4eaf4","#e6ecf5"]}}
   }}
 ]
},
{
 "width": 738, "height": 201,
 "title": {"text": "HLA-B*49:10 11-mer"},
 "layer": [
  {"data": {"name": "faint"}, "transform": [{"filter": "datum.k == 11"}],
   "mark": {"type": "bar", "stroke": "white", "strokeWidth": 1},
   "encoding": {
    "x": {"field": "x", "type": "ordinal", "scale": {"type": "band", "domain": [1,2,3,4,5,6,7,8,9,10,11], "paddingInner": 0.2, "paddingOuter": 0}, "axis": {"labelAngle": 0}},
    "y": {"field": "y", "type": "quantitative", "scale": {"domain": [0, 1], "nice": false}, "axis": {"values": [0, 0.2, 0.4, 0.6, 0.8, 1.0], "format": ".1f"}},
    "y2": {"field": "y2"},
    "color": {"field": "a", "type": "nominal", "legend": null, "scale": {"domain": ["A","C","D","E","F","G","H","I","K","L","M","N","P","Q","R","S","T","V","W","Y"], "range": ["#eff2f8","#f4edf3","#f4edf3","#f4edf3","#eff2f8","#f5f4ea","#ecf5f5","#eff2f8","#faeeee","#eff2f8","#eff2f8","#ecf6ec","#f5f4ea","#ecf6ec","#faeeee","#ecf6ec","#ecf6ec","#eff2f8","#eff2f8","#eff2f8"]}}
   }},
  {"data": {"name": "main"}, "transform": [{"filter": "datum.k == 11"}],
   "mark": {"type": "point", "filled": true, "opacity": 1, "size": 4, "strokeWidth": 0},
   "encoding": {
    "x": {"field": "x", "type": "ordinal"},
    "y": {"field": "lo", "type": "quantitative"},
    "shape": {"field": "a", "type": "nominal", "legend": null, "scale": {"domain": ["E","Q","L","I","V","M","F","C"], "range": [
      "M-27.33,0L27.33,0L27.33,-29.8L-7.11,-29.8L-7.11,-64.94L24.38,-64.94L24.38,-94.12L-7.11,-94.12L-7.11,-122.7L26.51,-122.7L26.51,-152.8L-27.33,-152.8Z",
      "M-27.33,-21.43A27.33,16.17 0 0 1 27.33,-21.43A27.33,16.17 0 0 1 -27.33,-21.43ZM-12.57,-21.43A12.3,9.02 0 0 0 12.03,-21.43A12.3,9.02 0 0 0 -12.57,-21.43ZM2.73,-8.27L15.31,-9.4L26.79,0L12.03,0Z",
      "M-27.33,0L27.33,0L27.33,-8.45L-6.56,-8.45L-6.56,-35.2L-27.33,-35.2Z",
      "M-8,0L8.6,0L8.6,-32.4L-8,-32.4Z",
      "M-27.33,-31L-7.65,-31L0,-11.16L7.65,-31L27.33,-31L9.29,0L-9.29,0Z",
      "M-27.33,0L-27.33,-21.7L-10.93,-21.7L0,-9.77L10.93,-21.7L27.33,-21.7L27.33,0L14.21,0L14.21,-15.62L4.37,-4.34L-4.37,-4.34L-14.21,-15.62L-14.21,0Z",
      "M-27.33,0L-27.33,-22.5L24.6,-22.5L24.6,-18L-7.11,-18L-7.11,-13.05L20.77,-13.05L20.77,-8.78L-7.11,-8.78L-7.11,0Z",
      "M20.94,-15.03A27.33,9.15 0 1 0 20.94,-3.27L10.72,-6.19A14,4.6 0 1 1 10.72,-12.11Z"]}},
    "fill": {"field": "a", "type": "nominal", "legend": null, "scale": {"domain": ["E","Q","L","I","V","M","F","C"], "range": ["#8b5589","#d7efd7","#d5dfed","#d8e1ee","#dae2ef","#dce4f0","#e2e8f2","#ecdbe9"]}}
   }}
 ]
}
]
}
